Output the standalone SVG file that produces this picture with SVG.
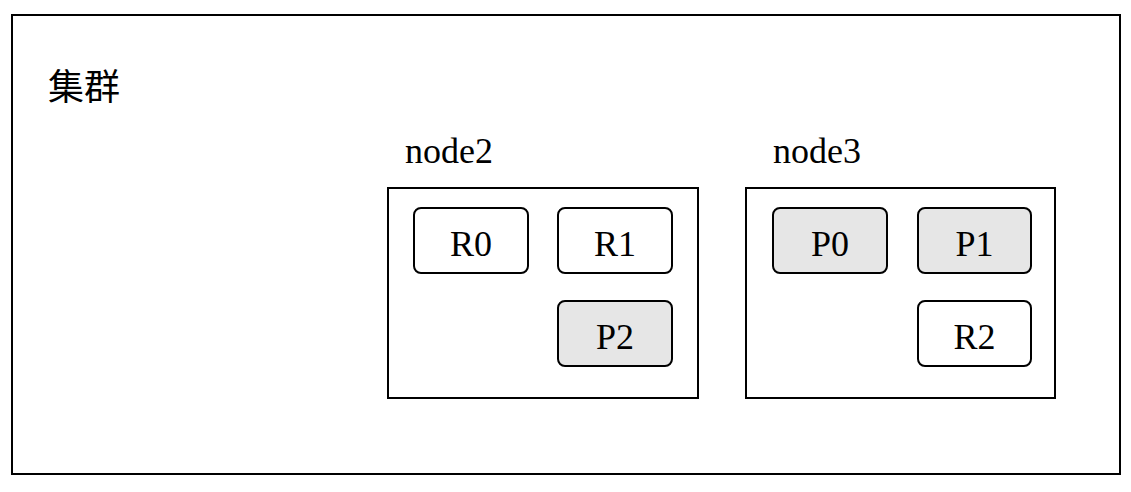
<svg xmlns="http://www.w3.org/2000/svg" width="1131" height="492" viewBox="0 0 1131 492">
<style>
.t{font-family:"Liberation Serif","Noto Sans CJK SC",serif;font-size:36px;fill:#000}
.c{text-anchor:middle}
.box{fill:#fff;stroke:#000;stroke-width:2}
.sh{stroke:#000;stroke-width:2}
.r{fill:#fff}
.p{fill:#e6e6e6}
</style>
<rect width="1131" height="492" fill="#fff"/>
<g id="cluster">
<rect class="box" x="12" y="15" width="1108" height="459"/>
<text class="t" x="48" y="100">集群</text>
</g>
<g id="node2">
<text class="t" x="405" y="163">node2</text>
<rect class="box" x="388" y="188" width="310" height="210"/>
</g>
<g id="node3">
<text class="t" x="773" y="163">node3</text>
<rect class="box" x="746" y="188" width="309" height="210"/>
</g>
<g id="R0"><rect class="sh r" x="414" y="208" width="114" height="65" rx="7"/><text class="t c" x="471" y="256">R0</text></g>
<g id="R1"><rect class="sh r" x="558" y="208" width="114" height="65" rx="7"/><text class="t c" x="615" y="256">R1</text></g>
<g id="P2"><rect class="sh p" x="558" y="301" width="114" height="65" rx="7"/><text class="t c" x="615" y="349">P2</text></g>
<g id="P0"><rect class="sh p" x="773" y="208" width="114" height="65" rx="7"/><text class="t c" x="830" y="256">P0</text></g>
<g id="P1"><rect class="sh p" x="918" y="208" width="113" height="65" rx="7"/><text class="t c" x="974.5" y="256">P1</text></g>
<g id="R2"><rect class="sh r" x="918" y="301" width="113" height="65" rx="7"/><text class="t c" x="974.5" y="349">R2</text></g>
<g id="connectors"></g>
</svg>
